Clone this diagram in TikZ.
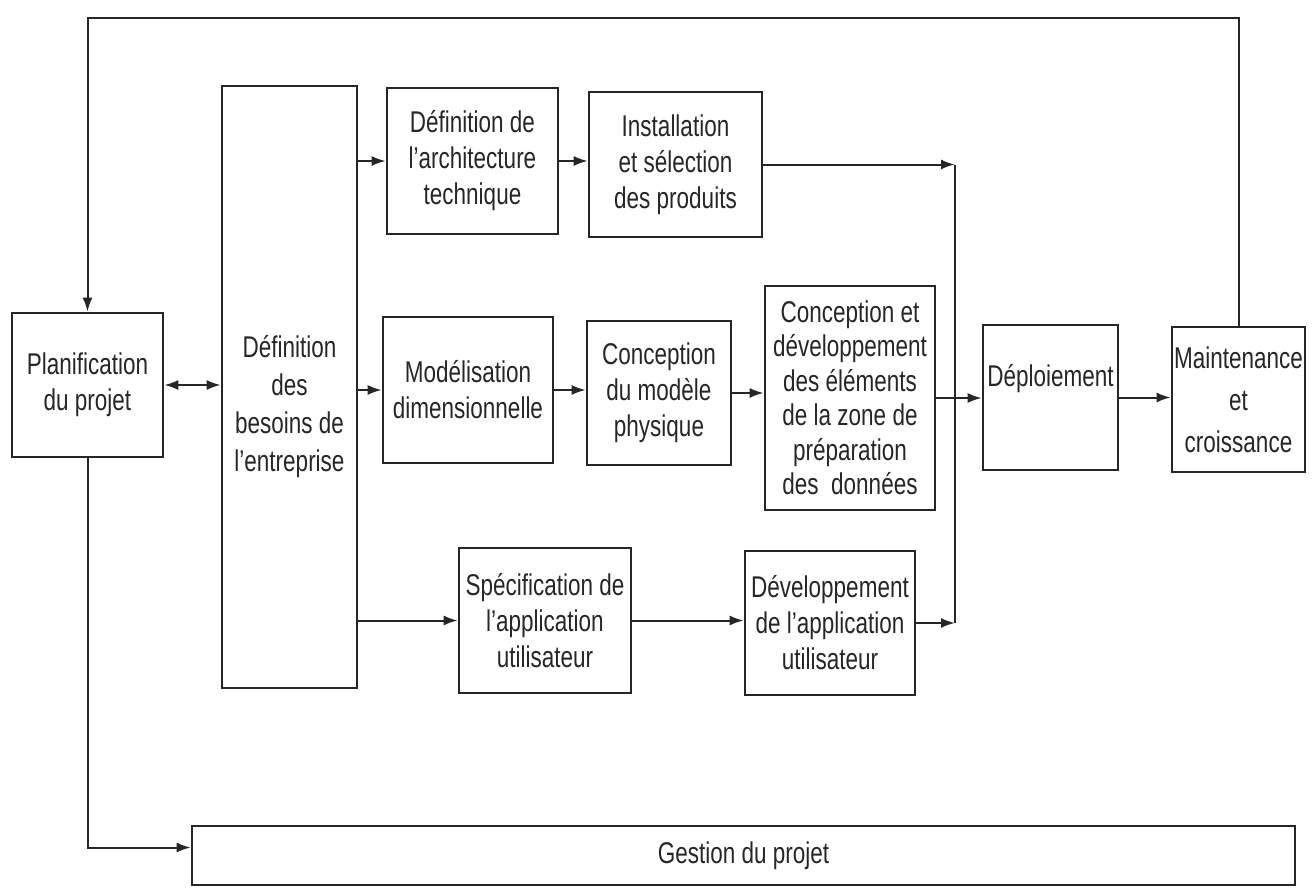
\documentclass[tikz,border=0pt]{standalone}
\usepackage{fontspec}
\setmainfont{Liberation Sans}[FakeStretch=0.75]
\usetikzlibrary{arrows.meta}
\begin{document}
\begin{tikzpicture}[x=1pt,y=-1pt,
  box/.style={draw=black!85, line width=2.6pt, rectangle, inner sep=0pt,
              align=center, text=black!85, font=\fontsize{30}{36}\selectfont},
  lbl/.style={inner sep=0pt, align=center, text=black!85,
              font=\fontsize{30}{36}\selectfont},
  link/.style={draw=black!85, line width=2pt},
  arr/.style={link, -{Latex[length=14pt,width=10pt]}},
  arrboth/.style={link, {Latex[length=14pt,width=10pt]}-{Latex[length=14pt,width=10pt]}}]
\useasboundingbox (0,0) rectangle (1312,892);

% process boxes
\node[box, minimum width=151pt, minimum height=144pt] (plan) at (87.5,385)
  {Planification\\du projet};
\node[box, minimum width=135pt, minimum height=602pt] (besoins) at (289.5,387) {};
\node[lbl, font=\fontsize{30}{38}\selectfont] (besoinsTxt) at (289.5,407)
  {Définition\\des\\besoins de\\l'entreprise};
\node[box, minimum width=171pt, minimum height=146pt] (arch) at (472.5,161)
  {Définition de\\l'architecture\\technique};
\node[box, minimum width=173pt, minimum height=145pt] (install) at (675.5,164.5)
  {Installation\\et sélection\\des produits};
\node[box, minimum width=170pt, minimum height=146pt] (model) at (468,390)
  {Modélisation\\dimensionnelle};
\node[box, minimum width=144pt, minimum height=144pt] (phys) at (659,393)
  {Conception\\du modèle\\physique};
\node[box, minimum width=170pt, minimum height=224pt,
      font=\fontsize{30}{34.5}\selectfont] (cd) at (850,398)
  {Conception et\\développement\\des éléments\\de la zone de\\préparation\\des\ \ données};
\node[box, minimum width=135pt, minimum height=145pt] (deploy) at (1050.5,397.5) {};
\node[lbl] (deployTxt) at (1050.5,379) {Déploiement};
\node[box, minimum width=133pt, minimum height=145pt,
      font=\fontsize{30}{42}\selectfont] (maint) at (1238.5,399.5)
  {Maintenance\\et\\croissance};
\node[box, minimum width=172pt, minimum height=145pt] (spec) at (545,620.5)
  {Spécification de\\l'application\\utilisateur};
\node[box, minimum width=170pt, minimum height=144pt] (dev) at (830,623)
  {Développement\\de l'application\\utilisateur};
\node[box, minimum width=1103pt, minimum height=59pt] (gestion) at (743.5,855.5)
  {Gestion du projet};

% helper coordinates: feedback line height and collecting bus
\coordinate (top) at (0,18);
\coordinate (bus) at (955,0);

% feedback loop from maintenance back to planning
\draw[arr] (maint.north) |- (plan.north |- top) -- (plan.north);

% planning <-> requirements
\draw[arrboth] (plan.east) -- (besoins.west |- plan.east);

% technical track
\draw[arr] (besoins.east |- arch.west) -- (arch.west);
\draw[arr] (arch.east) -- (install.west |- arch.east);

% data track
\draw[arr] (besoins.east |- model.west) -- (model.west);
\draw[arr] (model.east) -- (phys.west |- model.east);
\draw[arr] (phys.east) -- (cd.west |- phys.east);

% application track
\draw[arr] (besoins.east |- spec.west) -- (spec.west);
\draw[arr] (spec.east) -- (dev.west |- spec.east);

% the three tracks join before deployment
\draw[arr] (install.east) -- (install.east -| bus);
\draw[link] (install.east -| bus) -- (dev.east -| bus);
\draw[arr] (dev.east) -- (dev.east -| bus);
\draw[arr] (cd.east) -- (deploy.west |- cd.east);
\draw[arr] (deploy.east) -- (maint.west |- deploy.east);

% project management
\draw[arr] (plan.south) |- ([yshift=8pt]gestion.west);
\end{tikzpicture}
\end{document}
